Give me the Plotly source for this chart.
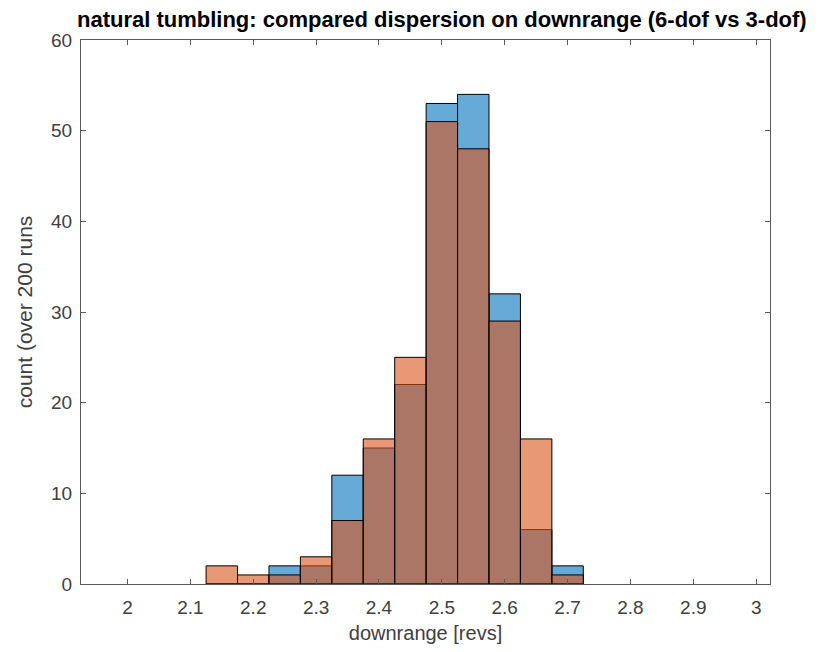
import plotly.graph_objects as go

bin_centers = [2.15, 2.20, 2.25, 2.30, 2.35, 2.40, 2.45, 2.50, 2.55, 2.60, 2.65, 2.70]
bin_width = 0.05
counts_6dof = [0, 0, 2, 2, 12, 15, 22, 53, 54, 32, 6, 2]
counts_3dof = [2, 1, 1, 3, 7, 16, 25, 51, 48, 29, 16, 1]
x_ticks = [2.0, 2.1, 2.2, 2.3, 2.4, 2.5, 2.6, 2.7, 2.8, 2.9, 3.0]
x_tick_labels = ["2", "2.1", "2.2", "2.3", "2.4", "2.5", "2.6", "2.7", "2.8", "2.9", "3"]
y_ticks = [0, 10, 20, 30, 40, 50, 60]

axis_color = "#5a5a5a"
text_color = "#404040"
font_family = "Liberation Sans, Arial, Helvetica, sans-serif"

fig = go.Figure()
fig.add_trace(go.Bar(
    x=bin_centers, y=counts_6dof, width=bin_width, name="6-dof",
    marker=dict(color="rgba(0,114,189,0.6)", line=dict(color="black", width=1)),
))
fig.add_trace(go.Bar(
    x=bin_centers, y=counts_3dof, width=bin_width, name="3-dof",
    marker=dict(color="rgba(217,83,25,0.6)", line=dict(color="black", width=1)),
))

fig.update_layout(
    width=817, height=636,
    barmode="overlay",
    showlegend=False,
    paper_bgcolor="white", plot_bgcolor="white",
    margin=dict(l=73, r=55, t=32, b=60, autoexpand=False),
    font=dict(family=font_family, color=text_color, size=19),
    title=dict(
        text="<b>natural tumbling: compared dispersion on downrange (6-dof vs 3-dof)</b>",
        xref="container", x=0.531, xanchor="center",
        yref="container", y=0.983, yanchor="middle",
        font=dict(size=22, color="black", family=font_family),
    ),
)
fig.update_xaxes(
    range=[1.926, 3.022], tickvals=x_ticks, ticktext=x_tick_labels,
    ticks="inside", ticklen=5, tickcolor=axis_color, tickwidth=1,
    showline=True, linecolor=axis_color, linewidth=1, mirror="ticks",
    showgrid=False, zeroline=False, ticklabelstandoff=6,
    title=dict(text="downrange [revs]", font=dict(size=20, color=text_color), standoff=9),
    tickfont=dict(size=19, color=text_color),
)
fig.update_yaxes(
    range=[0, 60], tickvals=y_ticks,
    ticks="inside", ticklen=5, tickcolor=axis_color, tickwidth=1,
    showline=True, linecolor=axis_color, linewidth=1, mirror="ticks",
    showgrid=False, zeroline=False, ticklabelstandoff=4,
    title=dict(text="count (over 200 runs", font=dict(size=21, color=text_color), standoff=12),
    tickfont=dict(size=19, color=text_color),
)

fig.write_html("out.html")
